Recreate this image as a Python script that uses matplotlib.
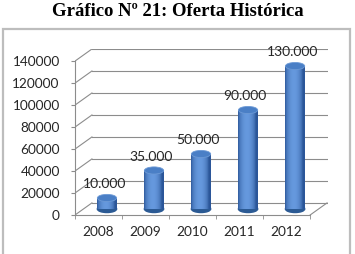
import matplotlib.pyplot as plt
import numpy as np
from matplotlib.patches import Ellipse, Rectangle

years = ["2008", "2009", "2010", "2011", "2012"]
oferta = [10000, 35000, 50000, 90000, 130000]
value_labels = ["10.000", "35.000", "50.000", "90.000", "130.000"]
y_ticks = [0, 20000, 40000, 60000, 80000, 100000, 120000, 140000]

plt.rcParams["font.family"] = ["Lato", "DejaVu Sans"]

# pseudo-3D depth offsets (data units)
DX = 0.36
DY = 11000
GRID = "#8c8c8c"
TXT = "#262626"

fig = plt.figure(figsize=(3.55, 2.54), dpi=100)
fig.patches.append(Rectangle((3 / 355, -0.05), 347 / 355, 1 - 29 / 254 + 0.05,
                             transform=fig.transFigure, fill=False,
                             edgecolor="#bdbdbd", linewidth=1.6))
fig.text(0.5, 1 - 12 / 254, "Gráfico Nº 21: Oferta Histórica", ha="center", va="center",
         fontsize=13.5, fontweight="bold", family="Liberation Serif")

ax = fig.add_axes([75 / 355, 39 / 254, 253 / 355, 166 / 254])
ax.set_xlim(-0.5, 4.5 + DX + 0.02)
ax.set_ylim(0, 151000)

x = np.arange(len(years))

# walls / gridlines
for v in y_ticks:
    ax.plot([-0.5, -0.5 + DX], [v, v + DY], color=GRID, lw=0.8, zorder=1)
    ax.plot([-0.5 + DX, 4.5 + DX], [v + DY, v + DY], color=GRID, lw=0.8, zorder=1)
ax.plot([4.5, 4.5 + DX], [0, DY], color=GRID, lw=0.8, zorder=1)

# cylinders
cx = x + DX / 2
w = 0.41
eh = 6500
grad = np.linspace(0, 1, 64)
shade = np.sin(np.pi * np.clip(grad * 1.12, 0, 1)) ** 0.6
dark = np.array([0.17, 0.34, 0.60])
light = np.array([0.40, 0.60, 0.87])
cyl_img = (dark[None, :] * (1 - shade[:, None]) + light[None, :] * shade[:, None])[None]

bars = ax.bar(cx, oferta, bottom=DY / 2, width=w, color="none", zorder=3)
for b, c, v in zip(bars, cx, oferta):
    ax.add_patch(Ellipse((c, DY / 2), w, eh, color="#2b5a94", zorder=2.9))
    im = ax.imshow(cyl_img, extent=(c - w / 2, c + w / 2, DY / 2, DY / 2 + v),
                   aspect="auto", zorder=3)
    im.set_clip_path(b)
    ax.add_patch(Ellipse((c, DY / 2 + v), w, eh, facecolor="#4a7fc6",
                         edgecolor="#6d9ad6", lw=0.6, zorder=4))

for c, v, lab in zip(cx, oferta, value_labels):
    ax.annotate(lab, (c, DY / 2 + v), xytext=(-2, 10), textcoords="offset points",
                ha="center", va="center", fontsize=10, color=TXT, zorder=5)

# axes
for s in ["top", "right"]:
    ax.spines[s].set_visible(False)
ax.spines["left"].set_bounds(0, 140000)
ax.spines["bottom"].set_bounds(-0.5, 4.5)
ax.spines["left"].set_color(GRID)
ax.spines["bottom"].set_color(GRID)
ax.set_yticks(y_ticks)
ax.set_yticklabels([str(v) for v in y_ticks])
ax.set_xticks(x)
ax.set_xticklabels(years)
ax.set_xticks(np.arange(-0.5, 5, 1), minor=True)
ax.tick_params(axis="y", length=3, pad=8, color=GRID, labelsize=9.8, labelcolor=TXT)
ax.tick_params(axis="x", which="major", length=0, pad=8, labelsize=9.8, labelcolor=TXT)
ax.tick_params(axis="x", which="minor", length=3, color=GRID)

fig.savefig("out.png", dpi=100)
